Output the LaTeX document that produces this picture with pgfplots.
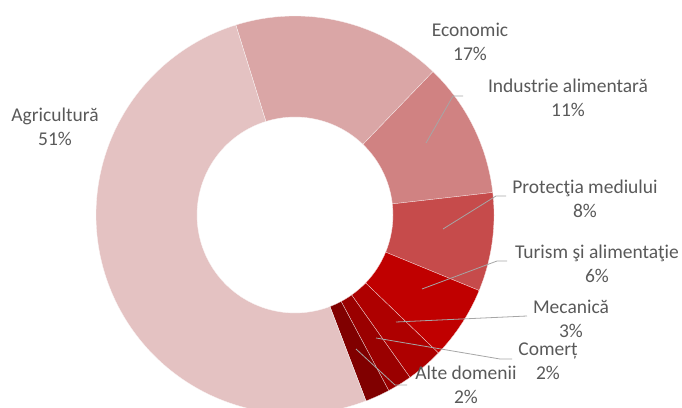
\documentclass[border=0pt]{standalone}
\usepackage{pgfplots}
\pgfplotsset{compat=1.18}
\usepgfplotslibrary{fillbetween}
\usepackage{fontspec}
\setmainfont{Carlito}
\definecolor{cAgr}{HTML}{E4C2C2}
\definecolor{cEco}{HTML}{DAA6A6}
\definecolor{cInd}{HTML}{D08282}
\definecolor{cPro}{HTML}{C64B4B}
\definecolor{cTur}{HTML}{C00000}
\definecolor{cMec}{HTML}{AE0000}
\definecolor{cCom}{HTML}{9A0000}
\definecolor{cAlt}{HTML}{800000}
\definecolor{txt}{HTML}{595959}
\definecolor{lead}{HTML}{A6A6A6}
% #1 cumulative start (%), #2 value (%), #3 colour, #4 name
\newcommand{\slice}[4]{%
  \addplot[draw=none, name path=o#4, domain=#1:#1+#2, samples=120, variable=\t]
    ({295+199*sin(-17.3+3.6*\t)}, {192+199*cos(-17.3+3.6*\t)});
  \addplot[draw=none, name path=i#4, domain=#1:#1+#2, samples=120, variable=\t]
    ({295+98*sin(-17.3+3.6*\t)}, {192+98*cos(-17.3+3.6*\t)});
  \addplot[fill=#3, draw=white!85!#3, line width=0.3pt] fill between[of=o#4 and i#4];
}
\begin{document}
\begin{tikzpicture}
\begin{axis}[
  scale only axis, width=682pt, height=407pt,
  xmin=0, xmax=682, ymin=0, ymax=407,
  hide axis,
]
% values: Economic 17, Industrie 11, Protectia 8, Turism 6, Mecanica 3, Comert 2, Alte 2, Agricultura 51
\slice{0}{17}{cEco}{eco}
\slice{17}{11}{cInd}{ind}
\slice{28}{8}{cPro}{pro}
\slice{36}{6}{cTur}{tur}
\slice{42}{3}{cMec}{mec}
\slice{45}{2}{cCom}{com}
\slice{47}{2}{cAlt}{alt}
\slice{49}{51}{cAgr}{agr}
% leader lines
\addplot[lead, line width=0.8pt] coordinates {(463,311) (453,311) (426,264)};
\addplot[lead, line width=0.8pt] coordinates {(506,211) (496,211) (443,178)};
\addplot[lead, line width=0.8pt] coordinates {(507,146) (497,146) (422,118)};
\addplot[lead, line width=0.8pt] coordinates {(527,91) (396,85)};
\addplot[lead, line width=0.8pt] coordinates {(512,48) (500,48) (376,69)};
\addplot[lead, line width=0.8pt] coordinates {(407,22) (395,22) (356,58)};
% labels
\begin{scope}[every node/.style={align=center, inner sep=0pt, text=txt, font=\fontsize{19.5}{24}\selectfont}]
\node at (axis cs:470,365) {Economic\\17\%};
\node at (axis cs:568,309.5) {Industrie alimentară\\11\%};
\node at (axis cs:585,208) {Protecţia mediului\\8\%};
\node at (axis cs:597,143) {Turism şi alimentaţie\\6\%};
\node at (axis cs:571,88) {Mecanică\\3\%};
\node at (axis cs:548,45.5) {Comerț\\2\%};
\node at (axis cs:466,22.5) {Alte domenii\\2\%};
\node at (axis cs:55,280) {Agricultură\\51\%};
\end{scope}
\end{axis}
\pgfresetboundingbox
\path[use as bounding box] (current axis.south west) rectangle (current axis.north east);
\end{tikzpicture}
\end{document}
